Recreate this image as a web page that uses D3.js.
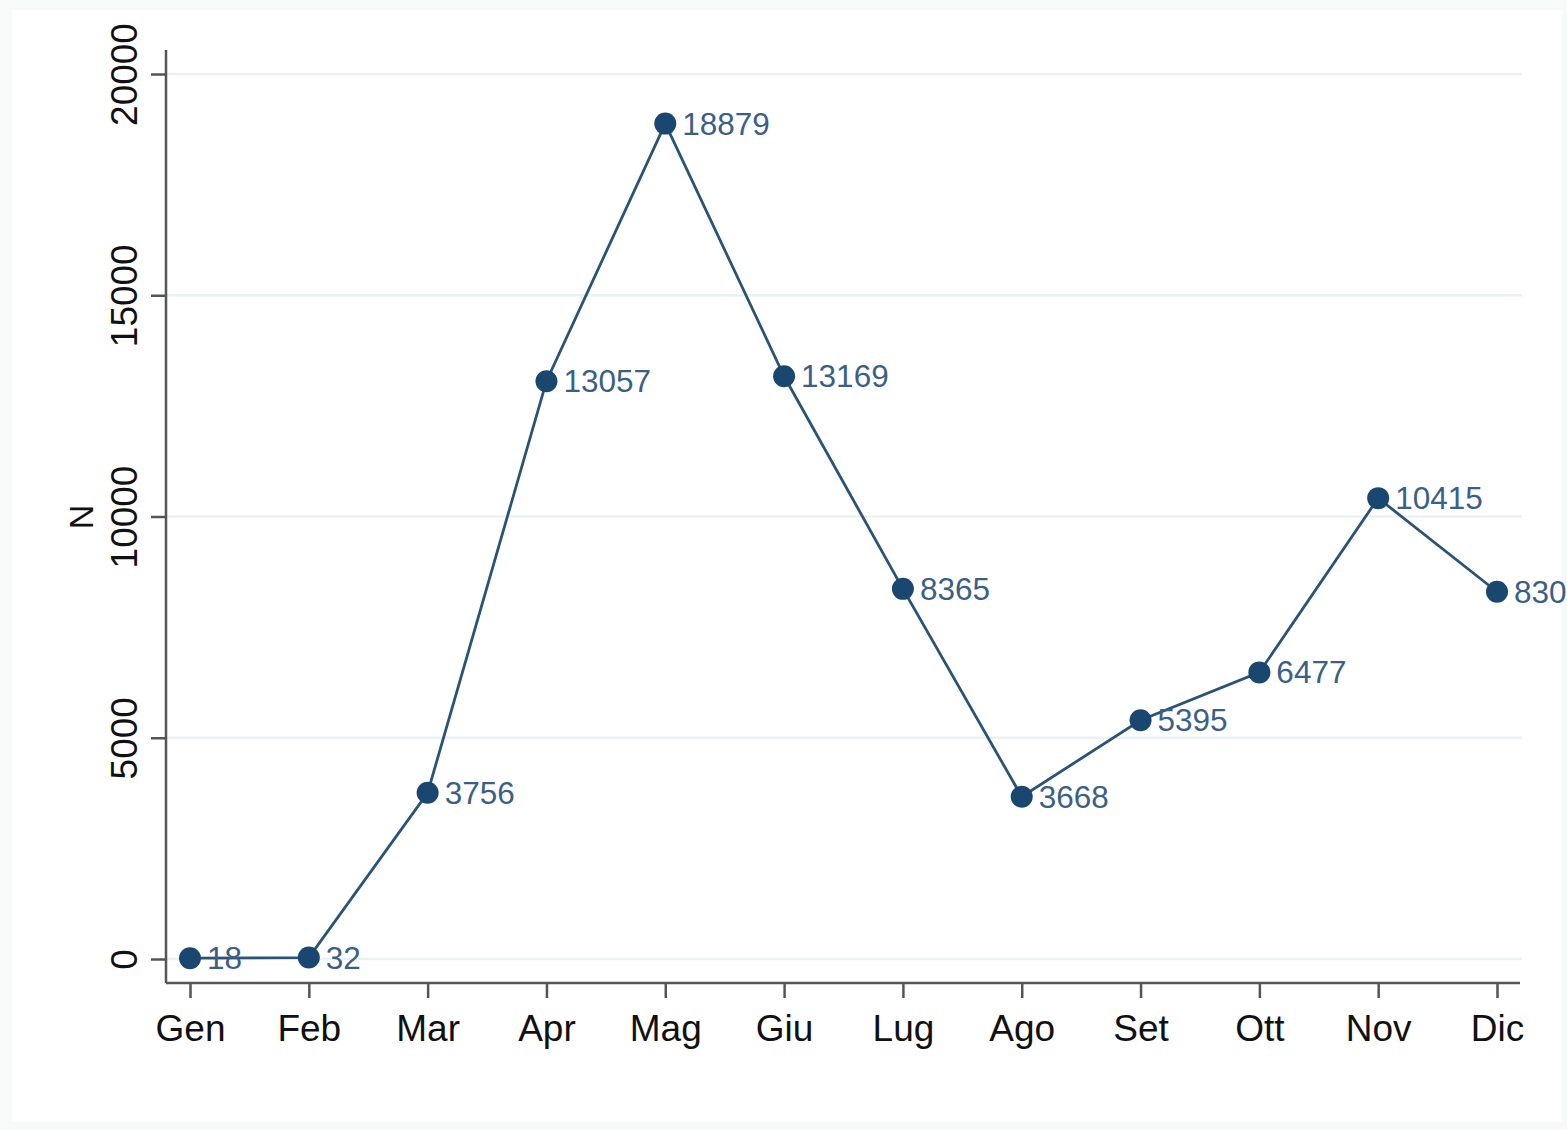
<!DOCTYPE html>
<html><head><meta charset="utf-8">
<script src="https://cdn.jsdelivr.net/npm/d3@7"></script>
<style>
html,body{margin:0;padding:0;background:#f8f9f9;}
svg{display:block;}
text{font-family:"Liberation Sans",Arial,sans-serif;}
</style></head>
<body>
<script>
const months = ["Gen","Feb","Mar","Apr","Mag","Giu","Lug","Ago","Set","Ott","Nov","Dic"];
const values = [18,32,3756,13057,18879,13169,8365,3668,5395,6477,10415,8300];
const yTicks = [0,5000,10000,15000,20000];
const yTitle = "N";

const W = 1567, H = 1130;
const svg = d3.select("body").append("svg").attr("width", W).attr("height", H);
svg.append("rect").attr("x",12).attr("y",10).attr("width",1550).attr("height",1112).attr("fill","#ffffff");

const x = d3.scalePoint().domain(months).range([190, 1497]);
const y = d3.scaleLinear().domain([0,20000]).range([959, 74]);

// gridlines
svg.append("g").selectAll("line").data(yTicks).join("line")
  .attr("x1",166).attr("x2",1522).attr("y1",d=>y(d)).attr("y2",d=>y(d))
  .attr("stroke","#eaf2f3").attr("stroke-width",2.5);

// y axis
const yAxis = svg.append("g").attr("transform","translate(166,0)")
  .call(d3.axisLeft(y).tickValues(yTicks).tickSize(15).tickPadding(0).tickFormat(d3.format("d")));
yAxis.select(".domain").attr("d","M0,50V983").attr("stroke","#555").attr("stroke-width",2.5);
yAxis.selectAll(".tick line").attr("stroke","#555").attr("stroke-width",2.5);
yAxis.selectAll(".tick text").attr("transform","rotate(-90)").attr("x",0).attr("y",-29)
  .attr("dy","0").attr("text-anchor","middle").attr("font-size",37).attr("fill","#111");

// x axis
const xAxis = svg.append("g").attr("transform","translate(0,983)")
  .call(d3.axisBottom(x).tickSize(15).tickPadding(17));
xAxis.select(".domain").attr("d","M166,0H1520").attr("stroke","#555").attr("stroke-width",2.5);
xAxis.selectAll(".tick line").attr("stroke","#555").attr("stroke-width",2.5);
xAxis.selectAll(".tick text").attr("font-size",37).attr("fill","#111");

// y title
svg.append("text").attr("transform","translate(93,517) rotate(-90)")
  .attr("text-anchor","middle").attr("font-size",34).attr("fill","#111").text(yTitle);

const data = months.map((m,i)=>({m, v:values[i]}));
const line = d3.line().x(d=>x(d.m)).y(d=>y(d.v));
svg.append("path").datum(data).attr("d",line).attr("fill","none")
  .attr("stroke","#2a5378").attr("stroke-width",2.8);

svg.append("g").selectAll("circle").data(data).join("circle")
  .attr("cx",d=>x(d.m)).attr("cy",d=>y(d.v)).attr("r",11).attr("fill","#1a476f");

svg.append("g").selectAll("text").data(data).join("text")
  .attr("x",d=>x(d.m)+17).attr("y",d=>y(d.v)+11)
  .attr("font-size",31.5).attr("fill","#3b5f86").text(d=>d.v);
</script>
</body></html>
